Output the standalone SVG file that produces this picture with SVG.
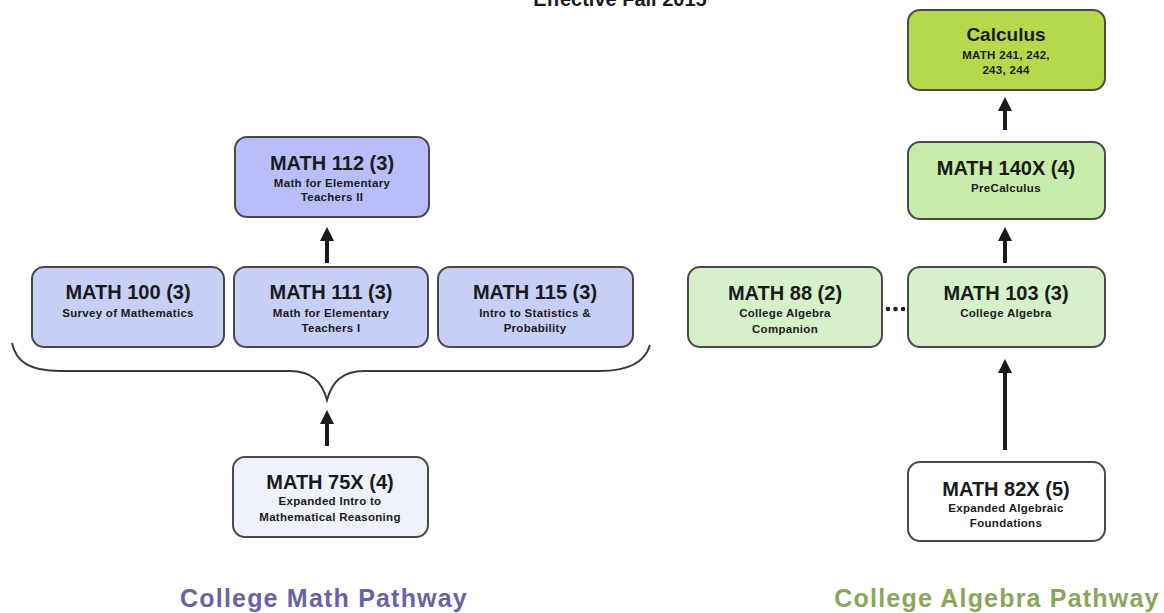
<svg xmlns="http://www.w3.org/2000/svg" width="1164" height="613" viewBox="0 0 1164 613">
<style>
.box{stroke:#4a4a4a;stroke-width:2}
.t{font-family:"Liberation Sans",Arial,sans-serif;font-weight:bold;fill:#1a1a1a;text-anchor:middle}
.h{font-size:20px}
.s{font-size:11.5px;letter-spacing:0.3px}
.lab{font-family:"Liberation Sans",Arial,sans-serif;font-weight:bold;font-size:25px;letter-spacing:1.2px;text-anchor:middle}
.conn{stroke:#1a1a1a;stroke-width:4;fill:none}
</style>
<defs>
<marker id="ah" viewBox="0 0 10 10" refX="5" refY="5" markerWidth="3.5" markerHeight="3.5" orient="auto">
<path d="M0,0 L10,5 L0,10 z" fill="#1a1a1a"/>
</marker>
</defs>
<rect width="1164" height="613" fill="#ffffff"/>
<text class="t" x="620" y="6" style="font-size:20px">Effective Fall 2015</text>

<g id="math112"><rect class="box" x="235" y="137" width="194" height="80" rx="12" fill="#b9befa"/>
<text class="t h" x="332" y="170">MATH 112 (3)</text>
<text class="t s" x="332" y="187">Math for Elementary</text>
<text class="t s" x="332" y="201">Teachers II</text></g>

<g id="math100"><rect class="box" x="32" y="267" width="192" height="80" rx="12" fill="#c8cff6"/>
<text class="t h" x="128" y="299">MATH 100 (3)</text>
<text class="t s" x="128" y="317">Survey of Mathematics</text></g>

<g id="math111"><rect class="box" x="234" y="267" width="194" height="80" rx="12" fill="#c8cff6"/>
<text class="t h" x="331" y="299">MATH 111 (3)</text>
<text class="t s" x="331" y="317">Math for Elementary</text>
<text class="t s" x="331" y="332">Teachers I</text></g>

<g id="math115"><rect class="box" x="438" y="267" width="195" height="80" rx="12" fill="#c8cff6"/>
<text class="t h" x="535" y="299">MATH 115 (3)</text>
<text class="t s" x="535" y="317">Intro to Statistics  &amp;</text>
<text class="t s" x="535" y="332">Probability</text></g>

<g id="math75x"><rect class="box" x="233" y="457" width="195" height="80" rx="12" fill="#eef2fb"/>
<text class="t h" x="330" y="489">MATH 75X (4)</text>
<text class="t s" x="330" y="505">Expanded Intro to</text>
<text class="t s" x="330" y="521">Mathematical  Reasoning</text></g>

<g id="calculus"><rect class="box" x="908" y="10" width="197" height="80" rx="12" fill="#b6d84b"/>
<text class="t" x="1006" y="41" style="font-size:19px">Calculus</text>
<text class="t s" x="1006" y="59">MATH 241, 242,</text>
<text class="t s" x="1006" y="74">243, 244</text></g>

<g id="math140x"><rect class="box" x="908" y="142" width="197" height="77" rx="12" fill="#c8ecaa"/>
<text class="t h" x="1006" y="175">MATH 140X (4)</text>
<text class="t s" x="1006" y="192">PreCalculus</text></g>

<g id="math88"><rect class="box" x="688" y="267" width="194" height="80" rx="12" fill="#d6f1ca"/>
<text class="t h" x="785" y="300">MATH 88 (2)</text>
<text class="t s" x="785" y="317">College Algebra</text>
<text class="t s" x="785" y="333">Companion</text></g>

<g id="math103"><rect class="box" x="908" y="267" width="197" height="80" rx="12" fill="#d6f1ca"/>
<text class="t h" x="1006" y="300">MATH 103 (3)</text>
<text class="t s" x="1006" y="317">College Algebra</text></g>

<g id="math82x"><rect class="box" x="908" y="462" width="197" height="79" rx="12" fill="#ffffff"/>
<text class="t h" x="1006" y="496">MATH 82X (5)</text>
<text class="t s" x="1006" y="512">Expanded Algebraic</text>
<text class="t s" x="1006" y="527">Foundations</text></g>

<g id="connectors">
<line class="conn" x1="327" y1="263" x2="327" y2="234" marker-end="url(#ah)"/>
<line class="conn" x1="327" y1="446" x2="327" y2="417" marker-end="url(#ah)"/>
<line class="conn" x1="1005" y1="130" x2="1005" y2="104" marker-end="url(#ah)"/>
<line class="conn" x1="1005" y1="263" x2="1005" y2="234" marker-end="url(#ah)"/>
<line class="conn" x1="1005" y1="450" x2="1005" y2="366" marker-end="url(#ah)"/>
<line x1="888" y1="309" x2="904" y2="309" stroke="#1a1a1a" stroke-width="4.5" stroke-linecap="round" stroke-dasharray="0,7.5"/>
<path d="M12,343 C16,362 30,371 60,371 L290,371 C312,371 322,382 327,400 C332,382 342,371 364,371 L600,371 C630,371 645,362 650,345" fill="none" stroke="#3a3a3a" stroke-width="2"/>
</g>

<text class="lab" x="324" y="607" fill="#6a62a3">College Math Pathway</text>
<text class="lab" x="997" y="607" fill="#8ba55b">College Algebra Pathway</text>
</svg>
